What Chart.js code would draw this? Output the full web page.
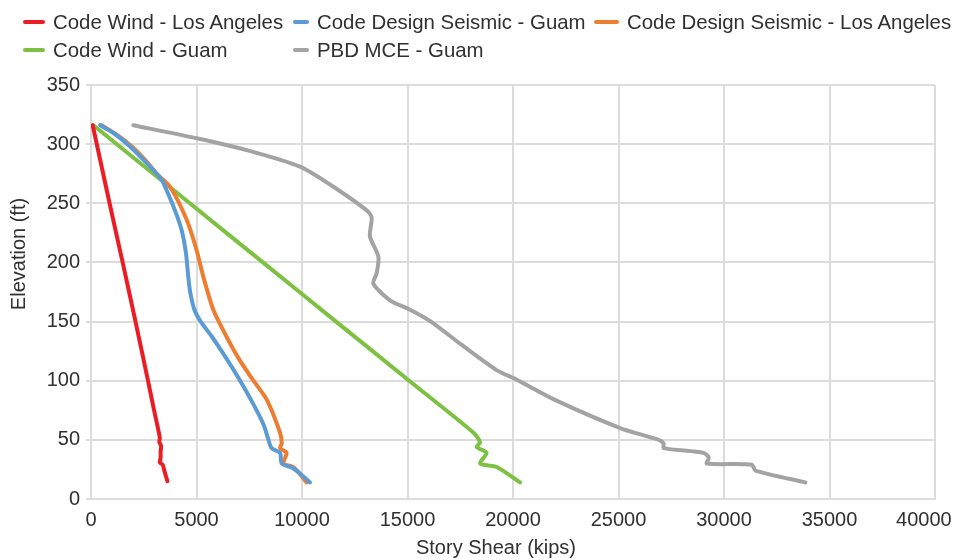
<!DOCTYPE html>
<html><head><meta charset="utf-8">
<script src="https://cdn.jsdelivr.net/npm/chart.js@4.4.1/dist/chart.umd.min.js"></script>
<style>
html,body{margin:0;padding:0;background:#fff;overflow:hidden}
#wrap{position:relative;width:956px;height:560px}
#c{position:absolute;left:0;top:0}
.lg{position:absolute;font-family:"Liberation Sans",Arial,sans-serif;font-size:20.4px;color:#303030;line-height:24px;white-space:nowrap}
.sw{position:absolute;height:4px;border-radius:2px}
</style></head><body>
<div id="wrap"><canvas id="c" width="956" height="560"></canvas><div id="legend"></div></div>
<script>
// ---- data ----
const seriesNames = ["Code Wind - Los Angeles","Code Design Seismic - Guam","Code Design Seismic - Los Angeles","Code Wind - Guam","PBD MCE - Guam"];
const seriesColors = ["#ec1c24","#5b9bd5","#ed7d31","#7cc142","#a3a3a3"];
const xTitle = "Story Shear (kips)";
const yTitle = "Elevation (ft)";
const xTicks = [0,5000,10000,15000,20000,25000,30000,35000,40000];
const yTicks = [0,50,100,150,200,250,300,350];

const windLA_x = [80,880,1500,2110,2700,2990,3260,3240,3320,3300,3300,3260,3400,3460,3540,3620];
const windLA_y = [316,250,200,150,100,75,52,48,45,40,35,31,29,25,20,15];

const seisGuam_x = [430,1100,1850,2640,3110,3350,3585,3980,4300,4500,4610,4700,4900,5200,5700,6300,7000,7700,8200,8410,8560,8960,9040,9590,10380];
const seisGuam_y = [316,309,298,284,275,270,261,244,227,208,188,175,160,150,138,122,102,80,62,50,43,39,30,26,14];

const seisLA_x = [507,1300,2000,2700,3110,3744,4535,5010,5322,5796,6430,7060,7700,8330,8960,9040,8960,9270,9120,9590,10220];
const seisLA_y = [316,307,297,284,275,264,236,210,188,160,137,117,100,84,56,47,43,39,30,27,14];

const windGuam_x = [110,4684,8149,11614,15079,18128,18440,18280,18750,18440,19230,20330];
const windGuam_y = [316,250,200,150,100,56,48,44,39,30,27,14];

const mceGuam_x = [2005,5010,7380,9905,11485,13065,13300,13220,13620,13540,13380,14170,15120,16110,17590,19220,20160,21960,25080,26910,27140,27140,29030,29280,29190,31320,31490,33860];
const mceGuam_y = [316,305,295,281,264,244,238,222,205,191,182,168,160,150,130,109,101,84,60,50,47,43,39,35,30,29,24,14];

const seriesX = [windLA_x, seisGuam_x, seisLA_x, windGuam_x, mceGuam_x];
const seriesY = [windLA_y, seisGuam_y, seisLA_y, windGuam_y, mceGuam_y];

// ---- chart ----
const FONT = '"Liberation Sans", Arial, sans-serif';
const TEXT = '#303030';
const datasets = seriesNames.map((n,i)=>({
  label:n,
  data: seriesX[i].map((x,j)=>({x:x,y:seriesY[i][j]})),
  borderColor: seriesColors[i],
  backgroundColor: seriesColors[i],
  borderWidth: 4,
  pointRadius: 0,
  tension: 0.25,
  fill:false,
  borderCapStyle:'round',
  borderJoinStyle:'round'
}));

const axisTitles = {
  id:'axisTitles',
  afterDraw(chart){
    const {ctx, chartArea:a} = chart;
    ctx.save();
    ctx.fillStyle=TEXT;
    ctx.font='20px '+FONT;
    ctx.textAlign='center'; ctx.textBaseline='middle';
    ctx.fillText(xTitle, a.left + 405, a.bottom + 49);
    ctx.translate(a.left - 72, a.top + 169);
    ctx.rotate(-Math.PI/2);
    ctx.fillText(yTitle, 0, 0);
    ctx.restore();
  }
};

const chart = new Chart(document.getElementById('c'), {
  type:'line',
  data:{datasets},
  plugins:[axisTitles],
  options:{
    responsive:false,
    animation:false,
    layout:{padding:{left:0,right:21,top:85,bottom:0}},
    plugins:{legend:{display:false},tooltip:{enabled:false}},
    scales:{
      x:{
        type:'linear', min:xTicks[0], max:xTicks[xTicks.length-1],
        afterBuildTicks(s){ s.ticks = xTicks.map(v=>({value:v})); },
        afterFit(s){ s.height = 61; s.paddingLeft = 0; s.paddingRight = 0; },
        grid:{color:'#dcdcdc', lineWidth:2, drawTicks:false},
        border:{color:'#dcdcdc', width:2},
        ticks:{
          color:TEXT, font:{family:FONT,size:20}, padding:9, maxRotation:0, autoSkip:false,
          callback:(v)=> v===xTicks[xTicks.length-1] ? String(v)+'    ' : String(v)
        }
      },
      y:{
        type:'linear', min:yTicks[0], max:yTicks[yTicks.length-1],
        afterBuildTicks(s){ s.ticks = yTicks.map(v=>({value:v})); },
        afterFit(s){ s.width = 91; s.paddingTop = 0; s.paddingBottom = 0; },
        grid:{color:'#dcdcdc', lineWidth:2, tickLength:5},
        border:{color:'#dcdcdc', width:2},
        ticks:{color:TEXT, font:{family:FONT,size:20}, padding:6, autoSkip:false,
          callback:(v)=>String(v)}
      }
    }
  }
});

// ---- legend (Excel-like 3-column grid) ----
const colSwatch = [23, 293, 594];
const colText = [53, 317, 627];
const rowMid = [22, 50];
const lg = document.getElementById('legend');
chart.data.datasets.forEach((ds,i)=>{
  const r = Math.floor(i/3), c = i%3;
  const sw = document.createElement('div');
  sw.className='sw';
  sw.style.left = colSwatch[c]+'px';
  sw.style.width = (colText[c]-colSwatch[c]-8)+'px';
  sw.style.top = (rowMid[r]-2)+'px';
  sw.style.background = ds.borderColor;
  lg.appendChild(sw);
  const t = document.createElement('div');
  t.className='lg';
  t.style.left = colText[c]+'px';
  t.style.top = (rowMid[r]-12)+'px';
  t.textContent = ds.label;
  lg.appendChild(t);
});
</script>
</body></html>
